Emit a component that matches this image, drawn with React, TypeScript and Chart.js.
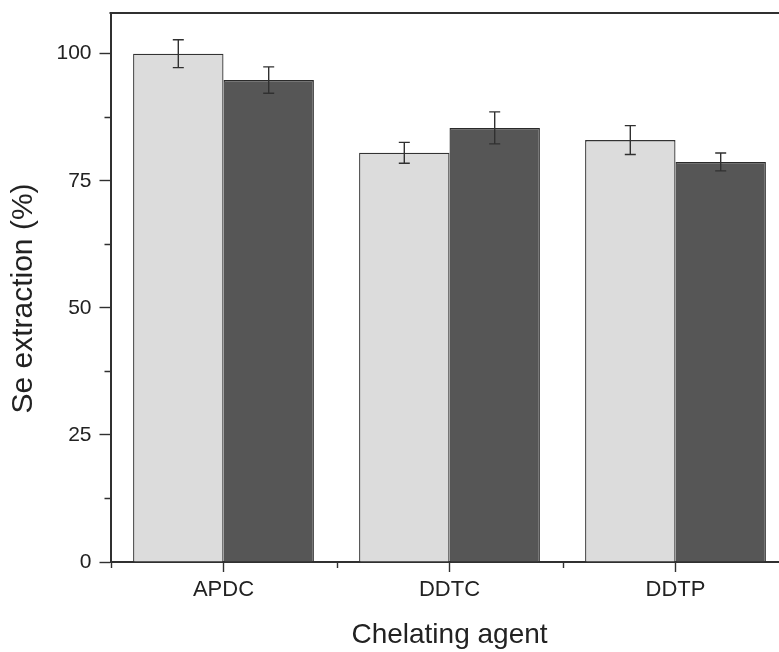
import React, { useEffect, useRef } from "react";
import { Chart, registerables } from "chart.js";

Chart.register(...registerables);

const categories = ["APDC", "DDTC", "DDTP"];
const seriesA = [100.0, 80.5, 83.0];
const seriesAErr = [2.75, 2.05, 2.85];
const seriesB = [94.8, 85.4, 78.7];
const seriesBErr = [2.6, 3.15, 1.75];
const yTicks = [0, 25, 50, 75, 100];
const yMinorTicks = [12.5, 37.5, 62.5, 87.5];
const yTitle = "Se extraction (%)";
const xTitle = "Chelating agent";

const FONT = "'Liberation Sans', Arial, Helvetica, sans-serif";
const INK = "#222222";
const LINE = "#303030";

const errorBarsPlugin = {
  id: "errorBars",
  afterDatasetsDraw(chart: any) {
    const ctx = chart.ctx;
    const y = chart.scales.y;
    const errs = [seriesAErr, seriesBErr];
    const vals = [seriesA, seriesB];
    ctx.save();
    ctx.strokeStyle = LINE;
    ctx.lineWidth = 1.4;
    errs.forEach((errArr, d) => {
      const meta = chart.getDatasetMeta(d);
      meta.data.forEach((bar: any, i: number) => {
        const x = bar.x;
        const top = y.getPixelForValue(vals[d][i] + errArr[i]);
        const bot = y.getPixelForValue(vals[d][i] - errArr[i]);
        const cap = 5.5;
        ctx.beginPath();
        ctx.moveTo(x, top);
        ctx.lineTo(x, bot);
        ctx.moveTo(x - cap, top);
        ctx.lineTo(x + cap, top);
        ctx.moveTo(x - cap, bot);
        ctx.lineTo(x + cap, bot);
        ctx.stroke();
      });
    });
    ctx.restore();
  },
};

const framePlugin = {
  id: "frameAndMinor",
  afterDraw(chart: any) {
    const ctx = chart.ctx;
    const { left, right, top, bottom } = chart.chartArea;
    const x = chart.scales.x;
    const y = chart.scales.y;
    ctx.save();
    ctx.strokeStyle = LINE;
    ctx.lineWidth = 2;
    ctx.beginPath();
    ctx.moveTo(left - 1, top);
    ctx.lineTo(right, top);
    ctx.lineTo(right, bottom);
    ctx.stroke();
    ctx.lineWidth = 1.4;
    ctx.beginPath();
    yMinorTicks.forEach((v) => {
      const py = Math.round(y.getPixelForValue(v)) + 0.5;
      ctx.moveTo(left - 6, py);
      ctx.lineTo(left, py);
    });
    const half = (x.getPixelForValue(1) - x.getPixelForValue(0)) / 2;
    for (let i = 0; i <= categories.length; i++) {
      const px = Math.round(x.getPixelForValue(i) - half) + 0.5;
      ctx.moveTo(px, bottom);
      ctx.lineTo(px, bottom + 6);
    }
    ctx.stroke();
    // y-axis title
    ctx.fillStyle = INK;
    ctx.font = `30px ${FONT}`;
    ctx.textAlign = "center";
    ctx.textBaseline = "middle";
    ctx.translate(23.5, (top + bottom) / 2 + 11);
    ctx.rotate(-Math.PI / 2);
    ctx.fillText(yTitle, 0, 0);
    ctx.restore();
  },
};

export default function App() {
  const ref = useRef<HTMLCanvasElement | null>(null);

  useEffect(() => {
    if (!ref.current) return;
    Chart.defaults.font.family = FONT;
    const chart = new Chart(ref.current, {
      type: "bar",
      data: {
        labels: categories,
        datasets: [
          {
            label: "A",
            data: seriesA,
            backgroundColor: "#dcdcdc",
            borderColor: "#333333",
            borderWidth: 1.3,
          },
          {
            label: "B",
            data: seriesB,
            backgroundColor: "#565656",
            borderColor: "#2a2a2a",
            borderWidth: 1.3,
          },
        ],
      },
      options: {
        responsive: false,
        maintainAspectRatio: false,
        devicePixelRatio: 1,
        animation: false,
        layout: { padding: { left: 0, top: 13, right: 11.5, bottom: 0 } },
        datasets: {
          bar: { categoryPercentage: 0.8, barPercentage: 1.0 },
        },
        plugins: {
          legend: { display: false },
          tooltip: { enabled: false },
        },
        scales: {
          x: {
            type: "category",
            offset: true,
            grid: {
              offset: false,
              drawOnChartArea: false,
              tickLength: 10,
              tickColor: LINE,
              tickWidth: 1.4,
            },
            border: { color: LINE, width: 2 },
            ticks: {
              color: INK,
              font: { size: 22, family: FONT },
              padding: 4.5,
            },
            title: {
              display: true,
              text: xTitle,
              color: INK,
              font: { size: 28, family: FONT },
              padding: { top: 5, bottom: 0 },
            },
            afterFit: (s: any) => {
              s.height = 90;
              s.paddingLeft = 0;
              s.paddingRight = 0;
            },
          },
          y: {
            min: 0,
            max: 108,
            grid: {
              drawOnChartArea: false,
              tickLength: 11,
              tickColor: LINE,
              tickWidth: 1.4,
            },
            border: { color: LINE, width: 2 },
            ticks: {
              stepSize: 25,
              includeBounds: false,
              color: INK,
              font: { size: 21, family: FONT },
              padding: 8,
            },
            afterBuildTicks: (axis: any) => {
              axis.ticks = yTicks.map((v) => ({ value: v }));
            },
            afterFit: (s: any) => {
              s.width = 110.5;
              s.paddingTop = 0;
              s.paddingBottom = 0;
            },
          },
        },
      },
      plugins: [errorBarsPlugin, framePlugin],
    });
    return () => chart.destroy();
  }, []);

  return (
    <div
      style={{
        position: "fixed",
        left: 0,
        top: 0,
        width: 779,
        height: 652,
        overflow: "hidden",
        background: "#ffffff",
      }}
    >
      <canvas ref={ref} width={800} height={652} style={{ display: "block" }} />
    </div>
  );
}
